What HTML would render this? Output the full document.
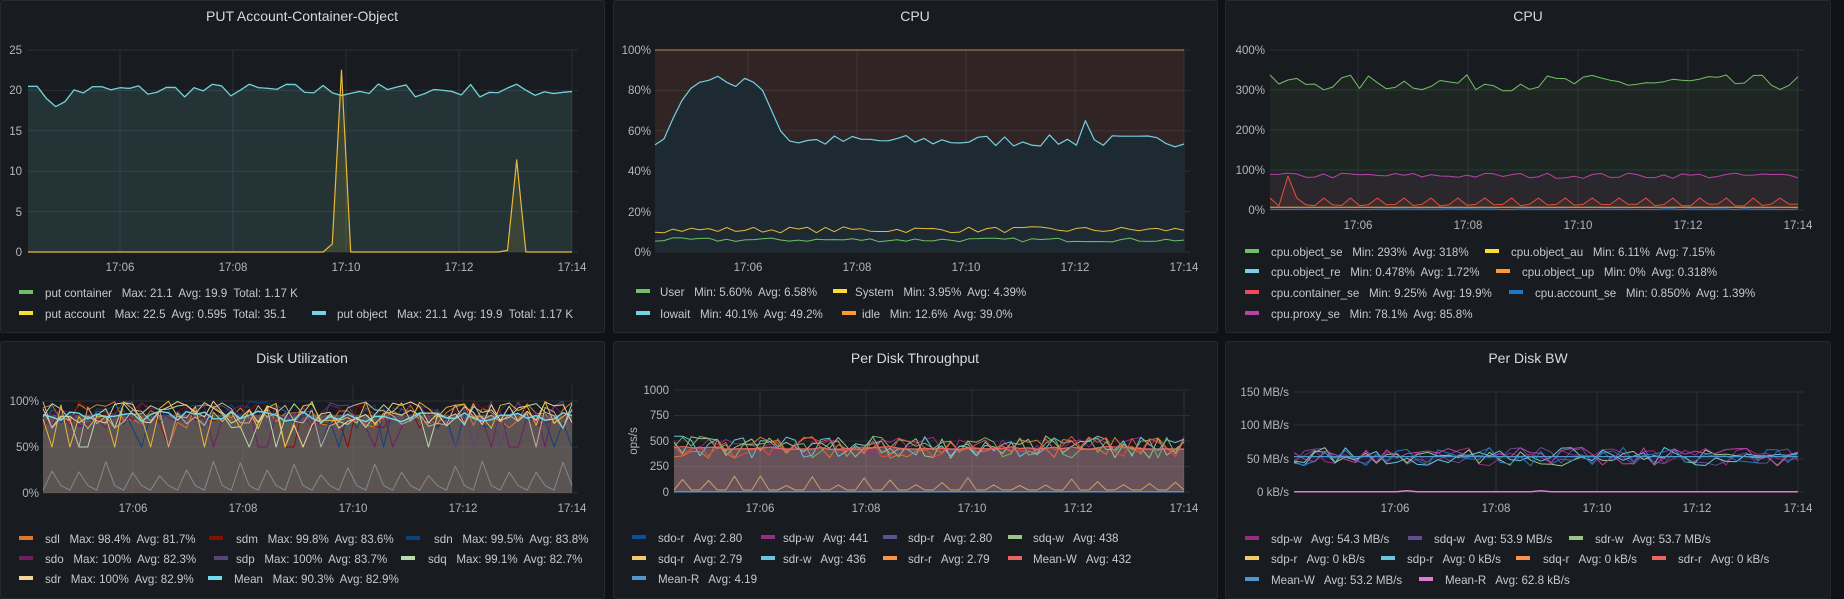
<!DOCTYPE html>
<html><head><meta charset="utf-8"><style>
html,body{margin:0;padding:0;background:#111217;width:1844px;height:599px;overflow:hidden}
svg{display:block}
text{font-family:"Liberation Sans",sans-serif;fill:#c7c8d2;font-size:11.6px;white-space:pre}
.t{font-size:14px;fill:#d8d9e0;text-anchor:middle}
.ax{font-size:11.5px;fill:#b5b6c0}
.r{text-anchor:end}
.m{text-anchor:middle}
</style></head><body>
<svg id="s" width="1844" height="599" xmlns="http://www.w3.org/2000/svg">
<rect x="0" y="0" width="1844" height="599" fill="#111217"/>
<g fill="#181b1f" stroke="#262930">
<rect x="0.5" y="0.5" width="604" height="332" rx="2"/>
<rect x="613.5" y="0.5" width="604" height="332" rx="2"/>
<rect x="1225.5" y="0.5" width="605" height="332" rx="2"/>
<rect x="0.5" y="341.5" width="604" height="257" rx="2"/>
<rect x="613.5" y="341.5" width="604" height="257" rx="2"/>
<rect x="1225.5" y="341.5" width="605" height="257" rx="2"/>
</g>
<g id="grid" stroke="#2c2f35" stroke-width="1"></g>
<g id="data"></g>

<text class="t" x="302" y="21">PUT Account-Container-Object</text>
<text class="t" x="915" y="21">CPU</text>
<text class="t" x="1528" y="21">CPU</text>
<text class="t" x="302" y="363">Disk Utilization</text>
<text class="t" x="915" y="363">Per Disk Throughput</text>
<text class="t" x="1528" y="363">Per Disk BW</text>

<g class="ax">
<text class="ax r" x="22" y="54">25</text><text class="ax r" x="22" y="94">20</text><text class="ax r" x="22" y="135">15</text><text class="ax r" x="22" y="175">10</text><text class="ax r" x="22" y="216">5</text><text class="ax r" x="22" y="256">0</text>
<text class="ax m" x="120" y="271">17:06</text><text class="ax m" x="233" y="271">17:08</text><text class="ax m" x="346" y="271">17:10</text><text class="ax m" x="459" y="271">17:12</text><text class="ax m" x="572" y="271">17:14</text>
<text class="ax r" x="651" y="54">100%</text><text class="ax r" x="651" y="94">80%</text><text class="ax r" x="651" y="135">60%</text><text class="ax r" x="651" y="175">40%</text><text class="ax r" x="651" y="216">20%</text><text class="ax r" x="651" y="256">0%</text>
<text class="ax m" x="748" y="271">17:06</text><text class="ax m" x="857" y="271">17:08</text><text class="ax m" x="966" y="271">17:10</text><text class="ax m" x="1075" y="271">17:12</text><text class="ax m" x="1184" y="271">17:14</text>
<text class="ax r" x="1265" y="54">400%</text><text class="ax r" x="1265" y="94">300%</text><text class="ax r" x="1265" y="134">200%</text><text class="ax r" x="1265" y="174">100%</text><text class="ax r" x="1265" y="214">0%</text>
<text class="ax m" x="1358" y="229">17:06</text><text class="ax m" x="1468" y="229">17:08</text><text class="ax m" x="1578" y="229">17:10</text><text class="ax m" x="1688" y="229">17:12</text><text class="ax m" x="1798" y="229">17:14</text>
<text class="ax r" x="39" y="405">100%</text><text class="ax r" x="39" y="451">50%</text><text class="ax r" x="39" y="497">0%</text>
<text class="ax m" x="133" y="512">17:06</text><text class="ax m" x="243" y="512">17:08</text><text class="ax m" x="353" y="512">17:10</text><text class="ax m" x="463" y="512">17:12</text><text class="ax m" x="572" y="512">17:14</text>
<text class="ax r" x="669" y="394">1000</text><text class="ax r" x="669" y="419">750</text><text class="ax r" x="669" y="445">500</text><text class="ax r" x="669" y="470">250</text><text class="ax r" x="669" y="496">0</text>
<text class="ax m" transform="translate(637,441) rotate(-90)">ops/s</text>
<text class="ax m" x="760" y="512">17:06</text><text class="ax m" x="866" y="512">17:08</text><text class="ax m" x="972" y="512">17:10</text><text class="ax m" x="1078" y="512">17:12</text><text class="ax m" x="1184" y="512">17:14</text>
<text class="ax r" x="1289" y="396">150 MB/s</text><text class="ax r" x="1289" y="429">100 MB/s</text><text class="ax r" x="1289" y="463">50 MB/s</text><text class="ax r" x="1289" y="496">0 kB/s</text>
<text class="ax m" x="1395" y="512">17:06</text><text class="ax m" x="1496" y="512">17:08</text><text class="ax m" x="1597" y="512">17:10</text><text class="ax m" x="1697" y="512">17:12</text><text class="ax m" x="1798" y="512">17:14</text>
</g>

<g>
<rect x="19" y="290" width="14" height="4" fill="#73bf69"/><text x="45" y="297">put container   Max: 21.1  Avg: 19.9  Total: 1.17 K</text>
<rect x="19" y="311" width="14" height="4" fill="#fade2a"/><text x="45" y="318">put account   Max: 22.5  Avg: 0.595  Total: 35.1</text>
<rect x="312" y="311" width="14" height="4" fill="#73d0e5"/><text x="337" y="318">put object   Max: 21.1  Avg: 19.9  Total: 1.17 K</text>

<rect x="636" y="289" width="14" height="4" fill="#73bf69"/><text x="660" y="296">User   Min: 5.60%  Avg: 6.58%</text>
<rect x="833" y="289" width="14" height="4" fill="#fade2a"/><text x="855" y="296">System   Min: 3.95%  Avg: 4.39%</text>
<rect x="636" y="311" width="14" height="4" fill="#73d0e5"/><text x="660" y="318">Iowait   Min: 40.1%  Avg: 49.2%</text>
<rect x="842" y="311" width="14" height="4" fill="#ff9830"/><text x="862" y="318">idle   Min: 12.6%  Avg: 39.0%</text>

<rect x="1245" y="249" width="14" height="4" fill="#73bf69"/><text x="1271" y="256">cpu.object_se   Min: 293%  Avg: 318%</text>
<rect x="1485" y="249" width="14" height="4" fill="#fade2a"/><text x="1511" y="256">cpu.object_au   Min: 6.11%  Avg: 7.15%</text>
<rect x="1245" y="269" width="14" height="4" fill="#73d0e5"/><text x="1271" y="276">cpu.object_re   Min: 0.478%  Avg: 1.72%</text>
<rect x="1496" y="269" width="14" height="4" fill="#ff9830"/><text x="1522" y="276">cpu.object_up   Min: 0%  Avg: 0.318%</text>
<rect x="1245" y="290" width="14" height="4" fill="#f2495c"/><text x="1271" y="297">cpu.container_se   Min: 9.25%  Avg: 19.9%</text>
<rect x="1509" y="290" width="14" height="4" fill="#1f78c1"/><text x="1535" y="297">cpu.account_se   Min: 0.850%  Avg: 1.39%</text>
<rect x="1245" y="311" width="14" height="4" fill="#ba43a9"/><text x="1271" y="318">cpu.proxy_se   Min: 78.1%  Avg: 85.8%</text>

<rect x="19" y="536" width="14" height="4" fill="#e0752d"/><text x="45" y="543">sdl   Max: 98.4%  Avg: 81.7%</text>
<rect x="209" y="536" width="14" height="4" fill="#890f02"/><text x="236" y="543">sdm   Max: 99.8%  Avg: 83.6%</text>
<rect x="406" y="536" width="14" height="4" fill="#0a437c"/><text x="434" y="543">sdn   Max: 99.5%  Avg: 83.8%</text>
<rect x="19" y="556" width="14" height="4" fill="#6d1f62"/><text x="45" y="563">sdo   Max: 100%  Avg: 82.3%</text>
<rect x="214" y="556" width="14" height="4" fill="#584477"/><text x="236" y="563">sdp   Max: 100%  Avg: 83.7%</text>
<rect x="401" y="556" width="14" height="4" fill="#b7dbab"/><text x="428" y="563">sdq   Max: 99.1%  Avg: 82.7%</text>
<rect x="19" y="576" width="14" height="4" fill="#f4d598"/><text x="45" y="583">sdr   Max: 100%  Avg: 82.9%</text>
<rect x="208" y="576" width="14" height="4" fill="#70dbed"/><text x="234" y="583">Mean   Max: 90.3%  Avg: 82.9%</text>

<rect x="632" y="535" width="14" height="4" fill="#0a50a1"/><text x="658" y="542">sdo-r   Avg: 2.80</text>
<rect x="761" y="535" width="14" height="4" fill="#962d82"/><text x="783" y="542">sdp-w   Avg: 441</text>
<rect x="883" y="535" width="14" height="4" fill="#614d93"/><text x="908" y="542">sdp-r   Avg: 2.80</text>
<rect x="1008" y="535" width="14" height="4" fill="#9ac48a"/><text x="1033" y="542">sdq-w   Avg: 438</text>
<rect x="632" y="556" width="14" height="4" fill="#f2c96d"/><text x="658" y="563">sdq-r   Avg: 2.79</text>
<rect x="761" y="556" width="14" height="4" fill="#65c5db"/><text x="783" y="563">sdr-w   Avg: 436</text>
<rect x="883" y="556" width="14" height="4" fill="#f9934e"/><text x="908" y="563">sdr-r   Avg: 2.79</text>
<rect x="1008" y="556" width="14" height="4" fill="#ea6460"/><text x="1033" y="563">Mean-W   Avg: 432</text>
<rect x="632" y="576" width="14" height="4" fill="#5195ce"/><text x="658" y="583">Mean-R   Avg: 4.19</text>

<rect x="1245" y="536" width="14" height="4" fill="#962d82"/><text x="1271" y="543">sdp-w   Avg: 54.3 MB/s</text>
<rect x="1408" y="536" width="14" height="4" fill="#614d93"/><text x="1434" y="543">sdq-w   Avg: 53.9 MB/s</text>
<rect x="1569" y="536" width="14" height="4" fill="#9ac48a"/><text x="1595" y="543">sdr-w   Avg: 53.7 MB/s</text>
<rect x="1245" y="556" width="14" height="4" fill="#f2c96d"/><text x="1271" y="563">sdp-r   Avg: 0 kB/s</text>
<rect x="1381" y="556" width="14" height="4" fill="#65c5db"/><text x="1407" y="563">sdp-r   Avg: 0 kB/s</text>
<rect x="1516" y="556" width="14" height="4" fill="#f9934e"/><text x="1543" y="563">sdq-r   Avg: 0 kB/s</text>
<rect x="1652" y="556" width="14" height="4" fill="#ea6460"/><text x="1678" y="563">sdr-r   Avg: 0 kB/s</text>
<rect x="1245" y="577" width="14" height="4" fill="#5195ce"/><text x="1271" y="584">Mean-W   Avg: 53.2 MB/s</text>
<rect x="1419" y="577" width="14" height="4" fill="#e07ad6"/><text x="1445" y="584">Mean-R   Avg: 62.8 kB/s</text>
</g>
</svg>
<script>
var NS="http://www.w3.org/2000/svg";
var G=document.getElementById("grid"),D=document.getElementById("data");
var seed=7;function rnd(){seed=(seed*16807)%2147483647;return seed/2147483647;}
function ln(x1,y1,x2,y2){var l=document.createElementNS(NS,"line");l.setAttribute("x1",x1);l.setAttribute("y1",y1);l.setAttribute("x2",x2);l.setAttribute("y2",y2);G.appendChild(l);}
function grid(x0,x1,ys,xs,yt,yb){ys.forEach(function(y){ln(x0,y,x1,y)});xs.forEach(function(x){ln(x,yt,x,yb)});}
grid(28,578,[50,90.4,130.8,171.2,211.6,252],[120,233,346,459,572],50,252);
grid(655,1190,[50,90.4,130.8,171.2,211.6,252],[748,857,966,1075,1184],50,252);
grid(1270,1804,[50,90,130,170,210],[1358,1468,1578,1688,1798],50,210);
grid(43,578,[401,447,493],[133,243,353,463,572],385,493);
grid(674,1190,[390,415.5,441,466.5,492],[760,866,972,1078,1184],390,492);
grid(1294,1804,[392,425,459,492],[1395,1496,1597,1697,1798],392,492);
function path(pts,stroke,fill,yb,sw){
 var d="M"+pts.map(function(p){return p[0].toFixed(1)+","+p[1].toFixed(1)}).join("L");
 if(fill){var f=document.createElementNS(NS,"path");f.setAttribute("d",d+"L"+pts[pts.length-1][0]+","+yb+"L"+pts[0][0]+","+yb+"Z");f.setAttribute("fill",fill);D.appendChild(f);}
 if(stroke!="none"){var p=document.createElementNS(NS,"path");p.setAttribute("d",d);p.setAttribute("fill","none");p.setAttribute("stroke",stroke);p.setAttribute("stroke-width",sw||1.2);p.setAttribute("stroke-linejoin","round");D.appendChild(p);}}
function ser(x0,x1,n,yf){var a=[];for(var i=0;i<n;i++){a.push([x0+(x1-x0)*i/(n-1),yf(i,n)]);}return a;}
// P1
var s1=function(v){return 252-v*8.08};
var po=ser(28,572,60,function(i){var v=20+(rnd()-0.5)*1.8;if(i<5)v=[20.5,20.5,19,18,18.6][i];return s1(v)});
path(po,"#73bf69","rgba(110,200,200,0.14)",252);
path(po,"#6ed0e0",null);
var pa=ser(28,572,60,function(i){var v=0;if(i==33)v=1;if(i==34)v=22.5;if(i==52)v=0.2;if(i==53)v=11.4;return s1(v)});
path(pa,"#eab839","rgba(250,222,42,0.1)",252);
// P2
var s2=function(v){return 252-v*2.02};
path(ser(655,1184,2,function(){return s2(100)}),"#c98a4a","rgba(220,110,70,0.12)",252,1);
var io=ser(655,1184,60,function(i){var v;if(i<12){v=[53,56,66,75,81,84,85,87,84,82,86,84][i]}else if(i<16){v=[80,70,60,55][i-12]}else v=55+(rnd()-0.5)*6;if(i==48)v=65;return s2(v)});
path(io,"#73d0e5","#1d2a32",252);
path(ser(655,1184,60,function(){return s2(11+(rnd()-0.5)*3)}),"#eab839",null,0,1);
path(ser(655,1184,60,function(){return s2(6+(rnd()-0.5)*2)}),"#73bf69",null,0,1);
// P3
var s3=function(v){return 210-v*0.4};
path(ser(1270,1798,60,function(){return s3(318+(rnd()-0.5)*40)}),"#73bf69","rgba(115,191,105,0.07)",210,1);
path(ser(1270,1798,60,function(){return s3(86+(rnd()-0.5)*14)}),"#ba43a9","rgba(186,67,169,0.08)",210,1);
path(ser(1270,1798,60,function(i){if(i==2)return s3(85);return s3(i%3==0?30:10+rnd()*5)}),"#e24d42","rgba(226,77,66,0.1)",210,1);
path(ser(1270,1798,60,function(){return s3(7)}),"#eab839",null,0,1);
path(ser(1270,1798,60,function(){return s3(1+rnd()*2)}),"#1f78c1",null,0,1);
// P4
var s4=function(v){return 493-v*0.92};
path(ser(43,572,2,function(){return s4(85)}),"none","rgba(150,130,125,0.55)",493);
var c4=["#e0752d","#890f02","#0a437c","#6d1f62","#584477","#b7dbab","#f4d598","#eab839","#bfb09f"];
c4.forEach(function(c){path(ser(43,572,60,function(){var v=85+(rnd()-0.5)*30;if(rnd()<0.06)v=50;return s4(Math.min(100,v))}),c,null,0,1)});
path(ser(43,572,60,function(){return s4(83+(rnd()-0.5)*12)}),"#70dbed",null,0,1.4);
path(ser(43,572,60,function(i){return s4(i%3==1?15+rnd()*20:(i%3==0?3:8))}),"#7f8c8c",null,0,1);
// P5
var s5=function(v){return 492-v*0.102};
path(ser(674,1184,2,function(){return s5(430)}),"none","rgba(200,150,160,0.45)",492);
["#962d82","#9ac48a","#65c5db","#e0752d","#7eb26d","#e24d42"].forEach(function(c){path(ser(674,1184,60,function(){var v=440+(rnd()-0.5)*220;return s5(v)}),c,null,0,1)});
path(ser(674,1184,60,function(){return s5(430+(rnd()-0.5)*30)}),"#ea6460",null,0,1.3);
path(ser(674,1184,60,function(i){return s5(i%3==1?60+rnd()*100:20)}),"#c8a070",null,0,1);
path(ser(674,1184,2,function(){return s5(3)}),"#5195ce",null,0,1.5);
// P6
var s6=function(v){return 492-v*0.667};
["#962d82","#614d93","#9ac48a","#65c5db","#1f78c1","#ba43a9"].forEach(function(c){path(ser(1294,1798,50,function(){return s6(53+(rnd()-0.5)*28)}),c,null,0,1)});
path(ser(1294,1798,2,function(){return s6(53)}),"#5195ce",null,0,1.3);
path(ser(1294,1798,50,function(){return s6(rnd()<0.1?2:0.5)}),"#e07ad6",null,0,1.5);
</script>
</body></html>
